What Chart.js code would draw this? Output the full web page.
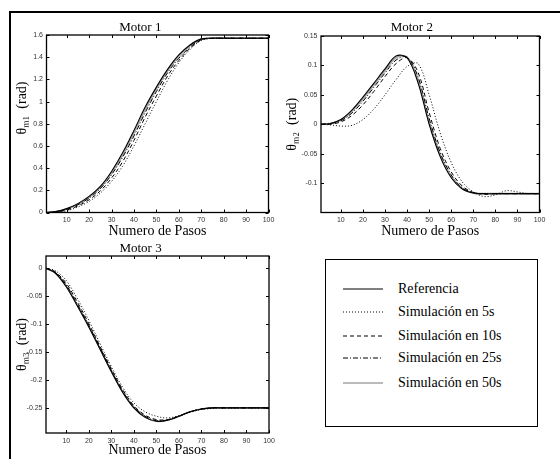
<!DOCTYPE html>
<html>
<head>
<meta charset="utf-8">
<title>Motores - trayectorias</title>
<script src="https://cdn.jsdelivr.net/npm/chart.js@4.4.1/dist/chart.umd.min.js"></script>
<style>
  html, body { margin: 0; padding: 0; background: #fff; }
  #page { position: relative; width: 560px; height: 459px; overflow: hidden;
          font-family: "Liberation Serif", Tinos, "Times New Roman", "Nimbus Roman", FreeSerif, "DejaVu Serif", serif; }
  #frame { position: absolute; left: 9px; top: 11px; right: -5px; bottom: -5px; border-top: 2px solid #000; border-left: 2px solid #000; }
  canvas { position: absolute; }
  #legend { position: absolute; left: 325px; top: 259px; width: 213px; height: 168px; box-sizing: border-box; border: 1.5px solid #000; }
  .row { position: absolute; left: 0; height: 20px; width: 100%; }
  .row svg { position: absolute; left: 17px; top: 8px; }
  .row span { position: absolute; left: 72px; top: 1px; font-size: 14px; line-height: 18px; color: #000; white-space: nowrap; }
</style>
</head>
<body>
<div id="page">
  <div id="frame"></div>
  <canvas id="motor1" width="268" height="226" style="left:12px;top:14px;width:268px;height:226px"></canvas>
  <canvas id="motor2" width="276" height="226" style="left:284px;top:14px;width:276px;height:226px"></canvas>
  <canvas id="motor3" width="268" height="219" style="left:12px;top:240px;width:268px;height:219px"></canvas>
  <div id="legend"></div>
</div>

<script>
// ── DATOS (paso de muestreo 5) ──
const STEPS = [1, 5, 10, 15, 20, 25, 30, 35, 40, 45, 50, 55, 60, 65, 70, 75, 80, 85, 90, 95, 100];

const SERIES_LABELS = ['Referencia', 'Simulación en 5s', 'Simulación en 10s', 'Simulación en 25s', 'Simulación en 50s'];

// Motor 1
const M1_REF = [0, 0.008, 0.035, 0.080, 0.145, 0.235, 0.370, 0.540, 0.740, 0.950, 1.130, 1.290, 1.420, 1.510, 1.565, 1.571, 1.571, 1.571, 1.571, 1.571, 1.571];
const M1_S5  = [0, 0.002, 0.015, 0.050, 0.100, 0.175, 0.280, 0.420, 0.600, 0.800, 1.000, 1.190, 1.350, 1.470, 1.550, 1.570, 1.571, 1.571, 1.571, 1.571, 1.571];
const M1_S10 = [0, 0.004, 0.022, 0.060, 0.115, 0.195, 0.310, 0.460, 0.650, 0.860, 1.050, 1.230, 1.370, 1.480, 1.555, 1.570, 1.571, 1.571, 1.571, 1.571, 1.571];
const M1_S25 = [0, 0.006, 0.028, 0.070, 0.130, 0.215, 0.340, 0.500, 0.690, 0.900, 1.090, 1.260, 1.390, 1.490, 1.560, 1.571, 1.571, 1.571, 1.571, 1.571, 1.571];
const M1_S50 = [0, 0.007, 0.032, 0.076, 0.140, 0.225, 0.355, 0.520, 0.720, 0.930, 1.115, 1.280, 1.410, 1.505, 1.563, 1.571, 1.571, 1.571, 1.571, 1.571, 1.571];

// Motor 2
const M2_REF = [0, 0.001, 0.008, 0.024, 0.046, 0.070, 0.094, 0.116, 0.113, 0.070, 0.000, -0.055, -0.091, -0.110, -0.117, -0.118, -0.118, -0.118, -0.118, -0.118, -0.118];
const M2_S5  = [0, -0.001, -0.003, -0.002, 0.008, 0.026, 0.050, 0.076, 0.098, 0.103, 0.050, -0.015, -0.065, -0.098, -0.115, -0.123, -0.120, -0.113, -0.115, -0.118, -0.118];
const M2_S10 = [0, 0.000, 0.004, 0.015, 0.033, 0.056, 0.081, 0.103, 0.113, 0.088, 0.020, -0.041, -0.081, -0.105, -0.116, -0.119, -0.118, -0.118, -0.118, -0.118, -0.118];
const M2_S25 = [0, 0.001, 0.006, 0.019, 0.039, 0.063, 0.087, 0.109, 0.114, 0.080, 0.010, -0.048, -0.086, -0.108, -0.116, -0.118, -0.118, -0.118, -0.118, -0.118, -0.118];
const M2_S50 = [0, 0.001, 0.007, 0.022, 0.043, 0.067, 0.091, 0.113, 0.114, 0.075, 0.004, -0.052, -0.089, -0.109, -0.117, -0.118, -0.118, -0.118, -0.118, -0.118, -0.118];

// Motor 3
const M3_REF = [0, -0.008, -0.033, -0.068, -0.105, -0.145, -0.185, -0.222, -0.250, -0.267, -0.274, -0.272, -0.265, -0.257, -0.252, -0.250, -0.250, -0.250, -0.250, -0.250, -0.250];
const M3_S5  = [0, -0.004, -0.022, -0.055, -0.093, -0.135, -0.176, -0.213, -0.241, -0.257, -0.265, -0.268, -0.264, -0.258, -0.253, -0.251, -0.250, -0.250, -0.250, -0.250, -0.250];
const M3_S10 = [0, -0.006, -0.027, -0.061, -0.099, -0.140, -0.180, -0.217, -0.246, -0.263, -0.271, -0.271, -0.265, -0.257, -0.252, -0.250, -0.250, -0.250, -0.250, -0.250, -0.250];
const M3_S25 = [0, -0.007, -0.030, -0.065, -0.102, -0.142, -0.183, -0.220, -0.248, -0.265, -0.273, -0.272, -0.265, -0.257, -0.252, -0.250, -0.250, -0.250, -0.250, -0.250, -0.250];
const M3_S50 = [0, -0.008, -0.032, -0.067, -0.104, -0.144, -0.184, -0.221, -0.249, -0.266, -0.274, -0.272, -0.265, -0.257, -0.252, -0.250, -0.250, -0.250, -0.250, -0.250, -0.250];

// Ticks
const X_TICKS    = [10, 20, 30, 40, 50, 60, 70, 80, 90, 100];
const M1_Y_TICKS = [0, 0.2, 0.4, 0.6, 0.8, 1, 1.2, 1.4, 1.6];
const M2_Y_TICKS = [-0.1, -0.05, 0, 0.05, 0.1, 0.15];
const M3_Y_TICKS = [-0.25, -0.2, -0.15, -0.1, -0.05, 0];

// ── ESTILOS (orden = SERIES_LABELS) ──
const LINE_STYLES = [
    { color: '#000000', width: 1.1, dash: [],           order: 0 },
    { color: '#000000', width: 1,   dash: [1, 2],       order: 1 },
    { color: '#000000', width: 1,   dash: [4, 3],       order: 2 },
    { color: '#000000', width: 1,   dash: [5, 2, 1, 2], order: 3 },
    { color: '#a4a4a4', width: 1.7, dash: [],           order: 4 }
];

const SERIF = '"Liberation Serif", Tinos, "Times New Roman", "Nimbus Roman", FreeSerif, "DejaVu Serif", serif';
const SANS  = '"Liberation Sans", Arimo, Arial, "DejaVu Sans", sans-serif';

// Caja estilo MATLAB con ticks hacia adentro
const boxPlugin = {
    id: 'matlabBox',
    afterDraw(chart) {
        const { ctx, chartArea: a, scales } = chart;
        const len = 3;
        ctx.save();
        ctx.strokeStyle = '#000';
        ctx.lineWidth = 1;
        ctx.beginPath();
        scales.x.ticks.forEach(t => {
            const px = Math.round(scales.x.getPixelForValue(t.value)) + 0.5;
            ctx.moveTo(px, a.bottom); ctx.lineTo(px, a.bottom - len);
            ctx.moveTo(px, a.top);    ctx.lineTo(px, a.top + len);
        });
        scales.y.ticks.forEach(t => {
            const py = Math.round(scales.y.getPixelForValue(t.value)) + 0.5;
            ctx.moveTo(a.left, py);  ctx.lineTo(a.left + len, py);
            ctx.moveTo(a.right, py); ctx.lineTo(a.right - len, py);
        });
        ctx.stroke();
        ctx.lineWidth = 1.3;
        ctx.strokeRect(a.left, a.top, a.right - a.left, a.bottom - a.top);
        ctx.restore();
    }
};

function makeDatasets(seriesList) {
    return seriesList.map((vals, i) => ({
        label: SERIES_LABELS[i],
        data: STEPS.map((x, k) => ({ x, y: vals[k] })),
        borderColor: LINE_STYLES[i].color,
        borderWidth: LINE_STYLES[i].width,
        borderDash: LINE_STYLES[i].dash,
        order: LINE_STYLES[i].order,
        pointRadius: 0,
        fill: false,
        tension: 0.35
    }));
}

function renderMotor(id, cfg) {
    const ctx = document.getElementById(id);
    return new Chart(ctx, {
        type: 'line',
        data: { datasets: makeDatasets(cfg.series) },
        options: {
            responsive: false,
            animation: false,
            devicePixelRatio: 1,
            events: [],
            layout: { autoPadding: false, padding: { left: 0, top: 0, right: cfg.padRight, bottom: 0 } },
            plugins: {
                legend: { display: false },
                tooltip: { enabled: false },
                title: {
                    display: true,
                    text: cfg.title,
                    color: '#000',
                    font: { family: SERIF, size: 13, weight: 'normal', lineHeight: 1 },
                    padding: { top: cfg.titleTop, bottom: cfg.titleBottom }
                }
            },
            scales: {
                x: {
                    type: 'linear',
                    min: 1, max: 100,
                    grid: { display: false, drawTicks: false },
                    border: { display: false },
                    afterBuildTicks: s => { s.ticks = X_TICKS.map(v => ({ value: v })); },
                    afterFit: s => { s.height = cfg.xHeight; },
                    ticks: { color: '#333', font: { family: SANS, size: 7 }, padding: cfg.xTickPad, maxRotation: 0 },
                    title: {
                        display: true, text: 'Numero de Pasos', color: '#000',
                        font: { family: SERIF, size: 14 }, padding: { top: 0, bottom: 0.2 }
                    }
                },
                y: {
                    type: 'linear',
                    min: cfg.yMin, max: cfg.yMax,
                    grid: { display: false, drawTicks: false },
                    border: { display: false },
                    afterBuildTicks: s => { s.ticks = cfg.yTicks.map(v => ({ value: v })); },
                    afterFit: s => { s.width = cfg.yWidth; },
                    ticks: { color: '#333', font: { family: SANS, size: 7 }, padding: 3.5, callback: v => String(v) },
                    title: {
                        display: true, text: cfg.yLabel, color: '#000',
                        font: { family: SERIF, size: 14 }, padding: { top: cfg.yTitlePad, bottom: 0 }
                    }
                }
            }
        },
        plugins: [boxPlugin]
    });
}

// la etiqueta del Motor 1 va algo más arriba en el original (espacios al inicio)
renderMotor('motor1', {
    title: 'Motor 1', yLabel: '         θₘ₁  (rad)',
    series: [M1_REF, M1_S5, M1_S10, M1_S25, M1_S50],
    yMin: 0, yMax: 1.6, yTicks: M1_Y_TICKS,
    padRight: 11.5, titleTop: 7.5, titleBottom: 0.5,
    xHeight: 27.5, xTickPad: 3.3, yWidth: 34.5, yTitlePad: 2.2
});

renderMotor('motor2', {
    title: 'Motor 2', yLabel: 'θₘ₂  (rad)',
    series: [M2_REF, M2_S5, M2_S10, M2_S25, M2_S50],
    yMin: -0.15, yMax: 0.15, yTicks: M2_Y_TICKS,
    padRight: 20.5, titleTop: 7.5, titleBottom: 1.5,
    xHeight: 27.5, xTickPad: 3.3, yWidth: 37, yTitlePad: 0.2
});

renderMotor('motor3', {
    title: 'Motor 3', yLabel: 'θₘ₃  (rad)',
    series: [M3_REF, M3_S5, M3_S10, M3_S25, M3_S50],
    yMin: -0.295, yMax: 0.022, yTicks: M3_Y_TICKS,
    padRight: 11, titleTop: 2.5, titleBottom: 0.5,
    xHeight: 26, xTickPad: 4.3, yWidth: 34, yTitlePad: 1.9
});

// ── LEYENDA ──
const LEGEND_ROW_TOPS = [19, 42, 66, 88, 113];
function renderLegend() {
    const box = document.getElementById('legend');
    box.innerHTML = SERIES_LABELS.map((label, i) => {
        const st = LINE_STYLES[i];
        return `
        <div class="row" style="top:${LEGEND_ROW_TOPS[i]}px">
            <svg width="40" height="4"><line x1="0" y1="2" x2="40" y2="2"
                stroke="${st.color}" stroke-width="${st.width}"
                stroke-dasharray="${st.dash.length ? st.dash.join(' ') : 'none'}"/></svg>
            <span>${label}</span>
        </div>`;
    }).join('');
}
renderLegend();
</script>
</body>
</html>
